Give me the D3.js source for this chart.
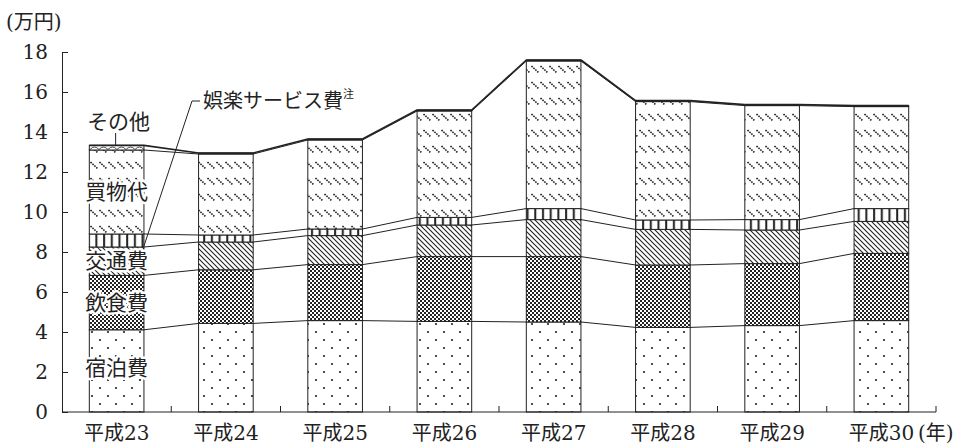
<!DOCTYPE html>
<html>
<head>
<meta charset="utf-8">
<script src="https://cdn.jsdelivr.net/npm/d3@7"></script>
<style>
  body { margin: 0; background: #fff; }
  svg text { font-family: "DejaVu Serif", "Noto Sans CJK JP", serif; }
</style>
</head>
<body>
<svg id="chart" width="969" height="448"></svg>
<script>
// data (万円)
var categories = ["平成23", "平成24", "平成25", "平成26", "平成27", "平成28", "平成29", "平成30"];
var shukuhaku = [4.11, 4.43, 4.57, 4.53, 4.50, 4.23, 4.32, 4.57];   // 宿泊費
var inshoku   = [2.72, 2.68, 2.80, 3.24, 3.27, 3.12, 3.10, 3.36];   // 飲食費
var kotsu     = [1.42, 1.39, 1.45, 1.58, 1.85, 1.78, 1.68, 1.60];   // 交通費
var goraku    = [0.65, 0.35, 0.33, 0.38, 0.55, 0.47, 0.52, 0.64];   // 娯楽サービス費
var kaimono   = [4.20, 4.05, 4.45, 5.32, 7.38, 5.92, 5.70, 5.10];   // 買物代
var sonota    = [0.23, 0.05, 0.05, 0.05, 0.05, 0.05, 0.05, 0.05];   // その他
var yTicks = [0, 2, 4, 6, 8, 10, 12, 14, 16, 18];

var keys = ["shukuhaku", "inshoku", "kotsu", "goraku", "kaimono", "sonota"];
var rows = categories.map(function(c, i) {
    return {
        cat: c, shukuhaku: shukuhaku[i], inshoku: inshoku[i], kotsu: kotsu[i],
        goraku: goraku[i], kaimono: kaimono[i], sonota: sonota[i]
    };
});

var svg = d3.select("#chart");
var x = d3.scaleBand().domain(categories).range([62, 936]).paddingInner(0.5).paddingOuter(0.25);
var y = d3.scaleLinear().domain([0, 18]).range([412, 52]);
var bw = x.bandwidth();

// patterns (monochrome, like the printed original)
var defs = svg.append("defs");
function pattern(id, w, h) {
    var p = defs.append("pattern").attr("id", id).attr("patternUnits", "userSpaceOnUse")
        .attr("width", w).attr("height", h);
    p.append("rect").attr("width", w).attr("height", h).attr("fill", "#fff");
    return p;
}
// 宿泊費 - sparse dots
var pd = pattern("p-shukuhaku", 16, 16);
pd.append("circle").attr("cx", 4).attr("cy", 4).attr("r", 1.1).attr("fill", "#222");
pd.append("circle").attr("cx", 12).attr("cy", 12).attr("r", 1.1).attr("fill", "#222");
// 飲食費 - fine checker
var pc = pattern("p-inshoku", 4, 4);
pc.append("rect").attr("width", 2).attr("height", 2).attr("fill", "#222");
pc.append("rect").attr("x", 2).attr("y", 2).attr("width", 2).attr("height", 2).attr("fill", "#222");
// 交通費 - diagonal hatch
var ph = pattern("p-kotsu", 5, 5);
ph.append("path").attr("d", "M-1,-1L6,6M-1,4L1,6M4,-1L6,1")
    .attr("stroke", "#222").attr("stroke-width", 1.1);
// 娯楽サービス費 - vertical bars
var pv = pattern("p-goraku", 7.7, 10);
pv.append("rect").attr("x", 3).attr("width", 2).attr("height", 10).attr("fill", "#222");
// 買物代 - dotted diagonal dashes in rows
var pk = pattern("p-kaimono", 9, 16);
pk.append("path").attr("d", "M0.5,2L7.5,8.5").attr("stroke", "#222").attr("stroke-width", 1.6)
    .attr("stroke-dasharray", "1.6,1");
// その他 - scallops
var ps = pattern("p-sonota", 9, 5);
ps.append("path").attr("d", "M0,4.5Q4.5,-0.5 9,4.5").attr("fill", "none")
    .attr("stroke", "#333").attr("stroke-width", 0.9);

var stacked = d3.stack().keys(keys)(rows);

// stacked bars
var layer = svg.selectAll(".layer")
    .data(stacked)
    .enter().append("g")
    .attr("class", "layer")
    .attr("fill", function(d) { return "url(#p-" + d.key + ")"; });

layer.selectAll("rect")
    .data(function(d) { return d; })
    .enter().append("rect")
    .attr("x", function(d) { return x(d.data.cat); })
    .attr("y", function(d) { return y(d[1]); })
    .attr("width", bw)
    .attr("height", function(d) { return y(d[0]) - y(d[1]); })
    .attr("stroke", "#222")
    .attr("stroke-width", 1);

// connector lines between bars at every boundary
stacked.forEach(function(s, j) {
    var segs = d3.pairs(s);
    svg.append("g").selectAll("line")
        .data(segs)
        .enter().append("line")
        .attr("x1", function(p) { return x(p[0].data.cat) + bw; })
        .attr("y1", function(p) { return y(p[0][1]); })
        .attr("x2", function(p) { return x(p[1].data.cat); })
        .attr("y2", function(p) { return y(p[1][1]); })
        .attr("stroke", "#222")
        .attr("stroke-width", j === keys.length - 1 ? 1.6 : 1);
});
// bold top edge on each bar
svg.append("g").selectAll("line")
    .data(stacked[keys.length - 1])
    .enter().append("line")
    .attr("x1", function(d) { return x(d.data.cat); })
    .attr("x2", function(d) { return x(d.data.cat) + bw; })
    .attr("y1", function(d) { return y(d[1]); })
    .attr("y2", function(d) { return y(d[1]); })
    .attr("stroke", "#222").attr("stroke-width", 1.6);

// y axis
var yAxis = d3.axisLeft(y).tickValues(yTicks).tickSize(-6).tickPadding(14).tickSizeOuter(0);
var gy = svg.append("g").attr("transform", "translate(62,0)").call(yAxis);
gy.attr("font-size", 20);
gy.selectAll("text").attr("fill", "#222");
gy.selectAll("line, path").attr("stroke", "#222");

// x axis
var xAxis = d3.axisBottom(x).tickSize(0).tickPadding(14).tickSizeOuter(0);
var gx = svg.append("g").attr("transform", "translate(0,412)").call(xAxis);
gx.attr("font-size", 20);
gx.selectAll("text").attr("fill", "#222");
gx.select(".domain").attr("stroke", "#222").attr("d", "M62,0H936");
gx.selectAll(".bound")
    .data(d3.range(1, categories.length + 1))
    .enter().append("line")
    .attr("class", "bound")
    .attr("x1", function(k) { return x.range()[0] + k * x.step(); })
    .attr("x2", function(k) { return x.range()[0] + k * x.step(); })
    .attr("y1", 0).attr("y2", -6)
    .attr("stroke", "#222");

function label(sel, size) {
    return sel.attr("font-size", size).attr("fill", "#222");
}
label(svg.append("text"), 20).attr("x", 918).attr("y", 440).text("(年)");
label(svg.append("text"), 20).attr("x", 6).attr("y", 29).text("(万円)");

// series labels inside/near the first bar
var cx0 = x(categories[0]) + bw / 2;
var inner = [
    { t: "買物代", y: 192 },
    { t: "交通費", y: 261 },
    { t: "飲食費", y: 303 },
    { t: "宿泊費", y: 368 }
];
label(svg.append("g"), 21).selectAll("text")
    .data(inner)
    .enter().append("text")
    .attr("x", cx0)
    .attr("y", function(d) { return d.y; })
    .attr("text-anchor", "middle")
    .attr("dominant-baseline", "central")
    .attr("paint-order", "stroke")
    .attr("stroke", "#fff")
    .attr("stroke-width", 5)
    .attr("stroke-linejoin", "round")
    .text(function(d) { return d.t; });

// その他 label with leader
var top0 = stacked[keys.length - 1][0][1];
svg.append("line").attr("x1", cx0 - 1).attr("x2", cx0 - 1).attr("y1", 133).attr("y2", y(top0))
    .attr("stroke", "#222");
label(svg.append("text"), 21).attr("x", cx0 + 2).attr("y", 122).attr("text-anchor", "middle")
    .attr("dominant-baseline", "central").text("その他");

// 娯楽サービス費 label with leader
var g0 = stacked[3][0][0];
svg.append("path")
    .attr("d", "M200,101H192L" + (x(categories[0]) + bw) + "," + y(g0 + 0.05))
    .attr("fill", "none").attr("stroke", "#222");
var gl = label(svg.append("text"), 20).attr("x", 203).attr("y", 101).attr("dominant-baseline", "central");
gl.append("tspan").text("娯楽サービス費");
gl.append("tspan").attr("dy", -7).attr("font-size", 11).text("注");
</script>
</body>
</html>
